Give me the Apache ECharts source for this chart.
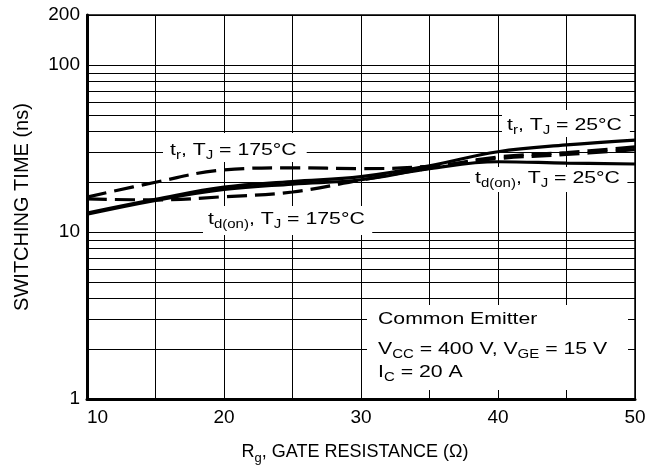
<!DOCTYPE html>
<html><head><meta charset="utf-8">
<script src="https://cdn.jsdelivr.net/npm/echarts@6/dist/echarts.min.js"></script>
<style>html,body{margin:0;padding:0;background:#fff}#c{width:649px;height:471px}</style>
</head><body><div id="c"></div>
<script>
// ---- data ----
const rg       = [10, 15, 20, 25, 30, 35, 40, 45, 50];
const trHot    = [16.2, 19.9, 23.6, 24.3, 24.0, 24.8, 27.6, 29.2, 31.2];   // t_r, TJ = 175°C (dashed)
const tdonHot  = [15.8, 15.6, 16.3, 17.4, 20.5, 24.2, 28.2, 30.0, 32.4];   // t_d(on), TJ = 175°C (dashed)
const trCold   = [13.0, 15.7, 18.6, 20.1, 21.5, 25.0, 30.3, 33.3, 35.6];   // t_r, TJ = 25°C (solid)
const tdonCold = [12.8, 15.5, 18.0, 19.4, 20.6, 24.0, 26.4, 25.9, 25.6];   // t_d(on), TJ = 25°C (solid)
const xTickLabels = [10, 20, 30, 40, 50];
const yTickLabels = [1, 10, 100, 200];
const yMinorGrid  = [2, 3, 4, 5, 6, 7, 8, 9, 20, 30, 40, 50, 60, 70, 80, 90];

// ---- styles ----
const F = '"Liberation Sans", Arial, Helvetica, sans-serif';
const SX = 1.25;
const richStyle = {
  m: {fontFamily: F, fontSize: 17, lineHeight: 20, verticalAlign: 'top', color: '#000'},
  s: {fontFamily: F, fontSize: 12, lineHeight: 14, padding: [8, 0, 0, 0], verticalAlign: 'top', color: '#000'}
};
function rich(parts) { return parts.map(p => '{' + (p[1] ? 's' : 'm') + '|' + p[0] + '}').join(''); }
function label(parts, x, y, pad) {
  return {
    type: 'text', x: x, y: y, scaleX: SX, z: 3, silent: true,
    style: {text: rich(parts), rich: richStyle, fill: '#000', verticalAlign: 'top', align: 'left',
            backgroundColor: pad ? '#fff' : 'transparent', padding: pad || 0}
  };
}
function mk(name, vals, dashed, withGrid) {
  const s = {
    name: name, type: 'line', data: rg.map((x, i) => [x, vals[i]]), smooth: 0.4, symbol: 'none',
    lineStyle: {color: '#000', width: 3.2, type: dashed ? [20, 8] : 'solid', cap: 'butt'},
    z: 4, silent: true
  };
  if (withGrid) {
    s.markLine = {
      silent: true, z: 1, symbol: ['none', 'none'], animation: false,
      label: {show: false},
      lineStyle: {color: '#000', width: 1, type: 'solid'},
      emphasis: {disabled: true},
      data: yMinorGrid.map(v => ({yAxis: v}))
    };
  }
  return s;
}

const chart = echarts.init(document.getElementById('c'), null, {renderer: 'canvas'});
chart.setOption({
  animation: false,
  backgroundColor: '#fff',
  grid: {left: 87, right: 14, top: 15, bottom: 72, show: true, borderColor: '#000', borderWidth: 1.5, backgroundColor: 'transparent'},
  xAxis: {
    type: 'value', min: 10, max: 50, interval: 5,
    axisLine: {show: true, onZero: false, lineStyle: {color: '#000', width: 3}},
    axisTick: {show: false},
    splitLine: {show: true, lineStyle: {color: '#000', width: 1}},
    axisLabel: {
      color: '#000', fontFamily: F, fontSize: 19, margin: 9, alignMinLabel: 'left',
      formatter: v => xTickLabels.indexOf(v) >= 0 ? String(v) : ''
    },
    name: rich([['R'], ['g', 1], [', GATE RESISTANCE (Ω)']]),
    nameLocation: 'middle', nameGap: 44,
    nameTextStyle: {
      padding: [0, 12, 0, 0],
      rich: {
        m: {fontFamily: F, fontSize: 18, lineHeight: 22, verticalAlign: 'top', color: '#000'},
        s: {fontFamily: F, fontSize: 13, lineHeight: 14, padding: [9, 0, 0, 0], verticalAlign: 'top', color: '#000'}
      }
    }
  },
  yAxis: {
    type: 'log', logBase: 10, min: 1, max: 200,
    axisLine: {show: true, lineStyle: {color: '#000', width: 3}},
    axisTick: {show: false},
    splitLine: {show: true, lineStyle: {color: '#000', width: 1}},
    minorTick: {show: false}, minorSplitLine: {show: false},
    axisLabel: {
      color: '#000', fontFamily: F, fontSize: 19, margin: 7, showMaxLabel: true,
      formatter: v => { const r = Math.round(v); return yTickLabels.indexOf(r) >= 0 ? String(r) : ''; }
    },
    name: 'SWITCHING TIME (ns)', nameLocation: 'middle', nameGap: 55,
    nameTextStyle: {color: '#000', fontFamily: F, fontSize: 20}
  },
  series: [
    mk('tr 175', trHot, true, true),
    mk('td(on) 175', tdonHot, true, false),
    mk('tr 25', trCold, false, false),
    mk('td(on) 25', tdonCold, false, false)
  ],
  graphic: [
    label([['t'], ['r', 1], [', T'], ['J', 1], [' = 175°C']], 163, 133, [9, 8, 0, 5.6]),
    label([['t'], ['d(on)', 1], [', T'], ['J', 1], [' = 175°C']], 203, 206, [5, 6, 4, 4]),
    label([['t'], ['r', 1], [', T'], ['J', 1], [' = 25°C']], 502, 110, [7, 6.4, 0, 4]),
    label([['t'], ['d(on)', 1], [', T'], ['J', 1], [' = 25°C']], 470, 167, [3, 6, 2, 4]),
    {type: 'rect', z: 3, silent: true, shape: {x: 367, y: 305, width: 261, height: 85}, style: {fill: '#fff'}},
    label([['Common Emitter']], 378, 311, null),
    label([['V'], ['CC', 1], [' = 400 V, V'], ['GE', 1], [' = 15 V']], 378, 341, null),
    label([['I'], ['C', 1], [' = 20 A']], 378, 364, null)
  ]
});
</script>
</body></html>
